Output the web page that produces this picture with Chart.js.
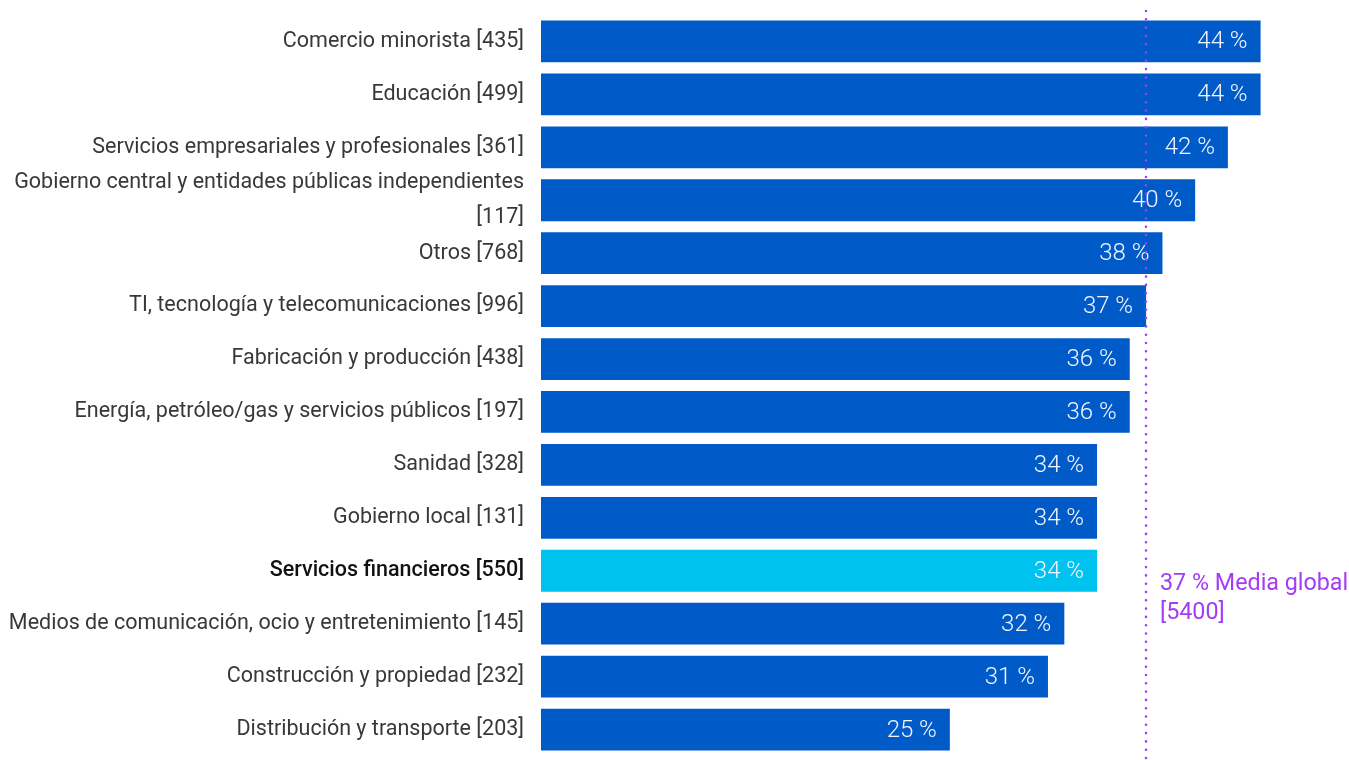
<!DOCTYPE html>
<html lang="es">
<head>
<meta charset="utf-8">
<title>Sectores</title>
<script src="https://cdn.jsdelivr.net/npm/chart.js@4/dist/chart.umd.min.js"></script>
<style>
  html, body { margin: 0; padding: 0; background: #fff; }
  #wrap { position: relative; width: 1349px; height: 760px; }
</style>
</head>
<body>
<div id="wrap"><canvas id="sectoresChart"></canvas></div>
<script>
/* global Chart */

const sectores = [
  'Comercio minorista',
  'Educación',
  'Servicios empresariales y profesionales',
  'Gobierno central y entidades públicas independientes',
  'Otros',
  'TI, tecnología y telecomunicaciones',
  'Fabricación y producción',
  'Energía, petróleo/gas y servicios públicos',
  'Sanidad',
  'Gobierno local',
  'Servicios financieros',
  'Medios de comunicación, ocio y entretenimiento',
  'Construcción y propiedad',
  'Distribución y transporte'
]
const encuestados = [435, 499, 361, 117, 768, 996, 438, 197, 328, 131, 550, 145, 232, 203]
const porcentajes = [44, 44, 42, 40, 38, 37, 36, 36, 34, 34, 34, 32, 31, 25]

const sectorDestacado = 'Servicios financieros'
const mediaGlobal = 37
const totalGlobal = 5400

const AZUL = '#005bc9'
const CELESTE = '#00c2ef'
const MORADO = '#a23cf6'

const indiceDestacado = sectores.indexOf(sectorDestacado)

// el sector más largo se parte en dos líneas, con el total debajo
const etiquetas = sectores.map((nombre, i) => {
  return nombre.length > 50 ? [nombre, `[${encuestados[i]}]`] : `${nombre} [${encuestados[i]}]`
})

const valoresEnBarra = {
  id: 'valoresEnBarra',
  afterDatasetsDraw (chart) {
    const { ctx } = chart
    const meta = chart.getDatasetMeta(0)
    ctx.save()
    ctx.fillStyle = '#f2f6ff'
    ctx.font = '300 24px Roboto'
    ctx.textAlign = 'right'
    ctx.textBaseline = 'middle'
    meta.data.forEach((bar, i) => {
      ctx.fillText(`${porcentajes[i]} %`, bar.x - 13, bar.y + 1)
    })
    ctx.restore()
  }
}

const lineaMedia = {
  id: 'lineaMedia',
  afterDatasetsDraw (chart) {
    const { ctx } = chart
    const x = Math.round(chart.scales.x.getPixelForValue(mediaGlobal))
    ctx.save()
    ctx.strokeStyle = MORADO
    ctx.lineWidth = 2.6
    ctx.lineCap = 'round'
    ctx.setLineDash([0, 8.3])
    ctx.beginPath()
    ctx.moveTo(x, 11)
    ctx.lineTo(x, chart.height)
    ctx.stroke()
    ctx.setLineDash([])

    ctx.fillStyle = MORADO
    ctx.font = '400 23.3px Roboto'
    ctx.textAlign = 'left'
    ctx.textBaseline = 'alphabetic'
    const yBarra = chart.getDatasetMeta(0).data[indiceDestacado].y
    ctx.fillText(`${mediaGlobal} % Media global`, x + 14, yBarra + 19)
    ctx.fillText(`[${totalGlobal}]`, x + 14, yBarra + 48)
    ctx.restore()
  }
}

new Chart(document.getElementById('sectoresChart'), {
  type: 'bar',
  data: {
    labels: etiquetas,
    datasets: [{
      data: porcentajes,
      backgroundColor: porcentajes.map((v, i) => i === indiceDestacado ? CELESTE : AZUL),
      borderWidth: 0,
      categoryPercentage: 1,
      barPercentage: 0.79
    }]
  },
  options: {
    indexAxis: 'y',
    responsive: true,
    maintainAspectRatio: false,
    animation: false,
    layout: { padding: { top: 15, bottom: 4, right: 23, left: 0 } },
    plugins: {
      legend: { display: false },
      tooltip: { enabled: false }
    },
    scales: {
      x: {
        display: false,
        min: 0,
        max: 48
      },
      y: {
        grid: { display: false, drawTicks: false },
        border: { display: false },
        afterFit (scale) {
          scale.width = 541
          scale.paddingTop = 0
          scale.paddingBottom = 0
        },
        ticks: {
          autoSkip: false,
          padding: 17,
          color: (c) => c.index === indiceDestacado ? '#111' : '#383838',
          font: (c) => ({
            family: 'Roboto',
            size: 21.5,
            weight: c.index === indiceDestacado ? '500' : '400',
            lineHeight: 1.6
          })
        }
      }
    }
  },
  plugins: [valoresEnBarra, lineaMedia]
})
</script>
</body>
</html>
